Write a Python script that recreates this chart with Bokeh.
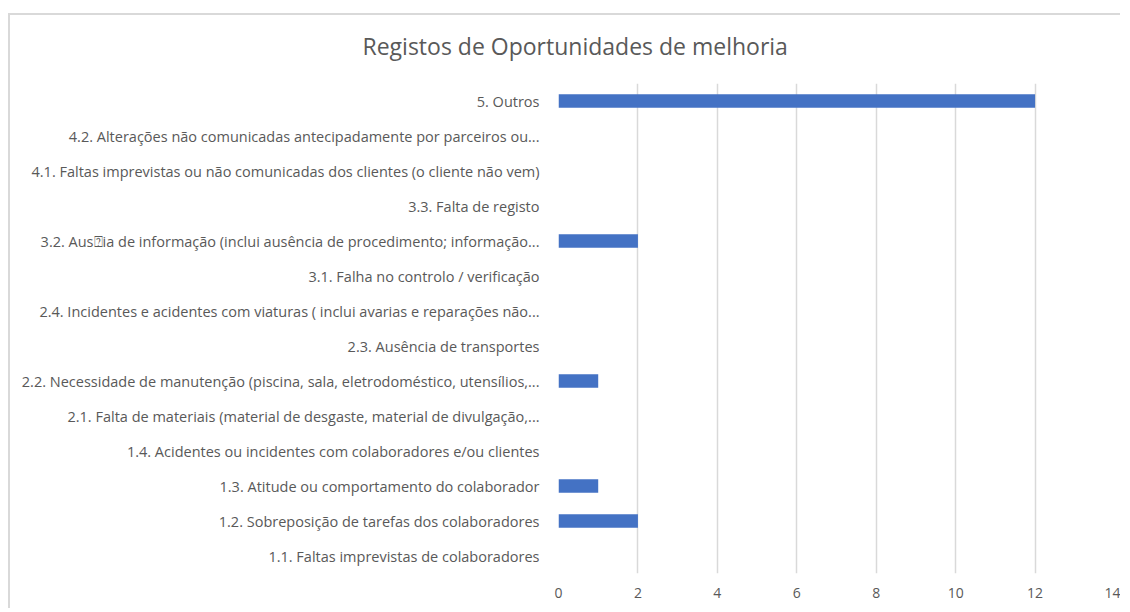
from bokeh.plotting import figure
from bokeh.models import FixedTicker, ColumnDataSource, Title
from bokeh.embed import file_html
from bokeh.resources import INLINE

# categories listed bottom to top
categories = [
    "1.1. Faltas imprevistas de colaboradores",
    "1.2. Sobreposição de tarefas dos colaboradores",
    "1.3. Atitude ou comportamento do colaborador",
    "1.4. Acidentes ou incidentes com colaboradores e/ou clientes",
    "2.1. Falta de materiais (material de desgaste, material de divulgação,...",
    "2.2. Necessidade de manutenção (piscina, sala, eletrodoméstico, utensílios,...",
    "2.3. Ausência de transportes",
    "2.4. Incidentes e acidentes com viaturas ( inclui avarias e reparações não...",
    "3.1. Falha no controlo / verificação",
    "3.2. Aus\u2370ia de informação (inclui ausência de procedimento; informação...",
    "3.3. Falta de registo",
    "4.1. Faltas imprevistas ou não comunicadas dos clientes (o cliente não vem)",
    "4.2. Alterações não comunicadas antecipadamente por parceiros ou...",
    "5. Outros",
]
values = [0, 2, 1, 0, 0, 1, 0, 0, 0, 2, 0, 0, 0, 12]
x_ticks = [0, 2, 4, 6, 8, 10, 12, 14]
title_text = "Registos de Oportunidades de melhoria"

FONT = "Open Sans"
GREY = "#595959"

src = ColumnDataSource(dict(cat=categories, val=values))

p = figure(
    y_range=categories, x_range=(0, 14),
    width=1112, height=595,
    output_backend="svg", toolbar_location=None,
    min_border_left=548, min_border_right=8,
    min_border_top=68, min_border_bottom=37,
    title=title_text,
)
p.margin = (13, 0, 0, 8)
p.styles = {"border-left": "2px solid #d9d9d9", "border-top": "2px solid #d9d9d9"}

p.hbar(y="cat", right="val", left=0, height=0.38, source=src,
       fill_color="#4472C4", line_color=None)

# blank spacer panel between the frame and the title
p.add_layout(Title(text=" ", text_font_size="10px", standoff=5), "above")

p.title.text_font = FONT
p.title.text_font_size = "23px"
p.title.text_font_style = "normal"
p.title.text_color = GREY
p.title.align = "left"
p.title.offset = -196
p.title.standoff = 7

p.outline_line_color = None
p.ygrid.grid_line_color = None
p.xgrid.grid_line_color = "#d9d9d9"
p.xgrid.grid_line_width = 1.5
p.xaxis.ticker = FixedTicker(ticks=x_ticks)

for ax in (p.xaxis, p.yaxis):
    ax.axis_line_color = None
    ax.major_tick_line_color = None
    ax.minor_tick_line_color = None
    ax.major_label_text_font = FONT
    ax.major_label_text_color = GREY

p.yaxis.major_label_text_font_size = "14.5px"
p.xaxis.major_label_text_font_size = "14px"
p.xaxis.major_label_standoff = 8
p.yaxis.major_label_standoff = 13

open("out.html", "w").write(file_html(p, INLINE))
